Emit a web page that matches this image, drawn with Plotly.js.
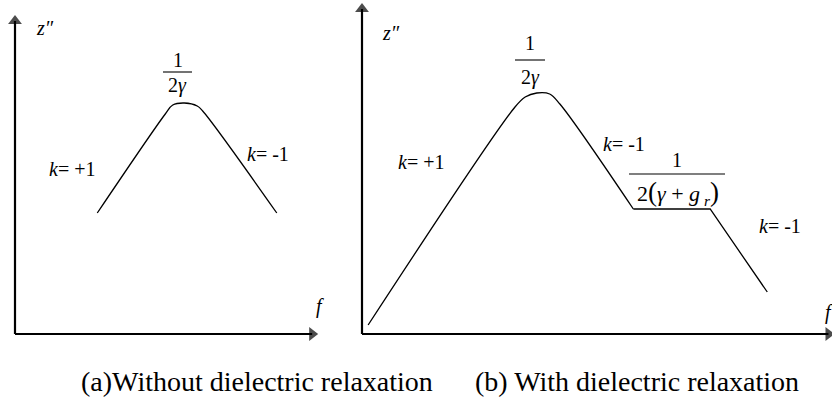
<!DOCTYPE html>
<html>
<head>
<meta charset="utf-8">
<script src="https://cdn.plot.ly/plotly-3.0.1.min.js"></script>
<style>html,body{margin:0;padding:0;background:#fff;}#chart{width:832px;height:401px;}</style>
</head>
<body>
<div id="chart"></div>
<script>
// Schematic data in log units (slope k = ±1)
// Panel (a): without dielectric relaxation
const fA = [1.21, 2.21, 2.32, 2.49, 2.68, 2.76, 3.85];
const zA = [1.21, 2.20, 2.29, 2.31, 2.28, 2.23, 1.21];
// Panel (b): with dielectric relaxation — peak part and plateau/tail part
const fBpeak = [0.09, 2.25, 2.40, 2.57, 2.76, 2.91, 3.99];
const zBpeak = [0.09, 2.27, 2.37, 2.41, 2.40, 2.30, 1.25];
const fBtail = [3.99, 5.12, 5.96];
const zBtail = [1.25, 1.25, 0.42];
// Axis extents (log units)
const axisA = {fmax: 4.37, zmax: 3.13};
const axisB = {fmax: 6.86, zmax: 3.25};

const W = 832, H = 401;
const serif = 'Liberation Serif';
const P = (px, py) => ({x: px / W, y: 1 - py / H});

function label(px, py, text, size) {
  const p = P(px, py);
  return {xref: 'paper', yref: 'paper', x: p.x, y: p.y, text: text, showarrow: false,
    xanchor: 'center', yanchor: 'middle', font: {family: serif, size: size || 20, color: '#000'}};
}
function bar(x0, x1, py) {
  return {type: 'line', xref: 'paper', yref: 'paper', x0: x0 / W, x1: x1 / W,
    y0: 1 - py / H, y1: 1 - py / H, line: {color: '#000', width: 1.1}};
}
function axisTrace(xa, xs, ys, sym) {
  return {x: xs, y: ys, xaxis: xa, yaxis: 'y', mode: 'lines+markers', cliponaxis: false, hoverinfo: 'skip',
    line: {color: '#000', width: 2.2},
    marker: {symbol: ['circle', sym], size: [0, 12], color: '#000', line: {width: 0}}};
}

const lineStyle = {color: '#000', width: 1.3, shape: 'spline'};
const traces = [
  axisTrace('x', [0, 0], [0, axisA.zmax], 'triangle-up'),
  axisTrace('x', [0, axisA.fmax], [0, 0], 'triangle-right'),
  axisTrace('x2', [0, 0], [0, axisB.zmax], 'triangle-up'),
  axisTrace('x2', [0, axisB.fmax], [0, 0], 'triangle-right'),
  {x: fA, y: zA, xaxis: 'x', yaxis: 'y', mode: 'lines', line: lineStyle, cliponaxis: false, hoverinfo: 'skip'},
  {x: fBpeak, y: zBpeak, xaxis: 'x2', yaxis: 'y', mode: 'lines', line: lineStyle, cliponaxis: false, hoverinfo: 'skip'},
  {x: fBtail, y: zBtail, xaxis: 'x2', yaxis: 'y', mode: 'lines', line: {color: '#000', width: 1.3}, cliponaxis: false, hoverinfo: 'skip'}
];

const big = s => '<span style="font-size:27px">' + s + '</span>';
const annotations = [
  // panel (a)
  label(45, 28, '<i>z″</i>', 20),
  label(178, 60, '1', 20),
  label(177, 86, '2<i>γ</i>', 20),
  label(72, 169, '<i>k</i>= +1', 20),
  label(268, 154, '<i>k</i>= -1', 20),
  label(320, 306, '<i>f</i>', 20),
  label(257, 381, '(a)Without dielectric relaxation', 28),
  // panel (b)
  label(391, 33, '<i>z″</i>', 20),
  label(530, 43, '1', 20),
  label(530, 77, '2<i>γ</i>', 20),
  label(421, 162, '<i>k</i>= +1', 20),
  label(624, 144, '<i>k</i>= -1', 20),
  label(677, 160, '1', 20),
  label(678, 193, '2' + big('(') + '<i>γ</i> + <i>g</i><sub> <i>r</i></sub>' + big(')'), 22),
  label(780, 226, '<i>k</i>= -1', 20),
  label(829, 312, '<i>f</i>', 20),
  label(637, 381, '(b) With dielectric relaxation', 28)
];

const shapes = [bar(163, 192, 72), bar(515, 545, 60), bar(629, 725, 174)];

const layout = {
  width: W, height: H, margin: {l: 0, r: 0, t: 0, b: 0, pad: 0},
  paper_bgcolor: '#fff', plot_bgcolor: '#fff', showlegend: false,
  font: {family: serif, color: '#000'},
  xaxis: {domain: [0, 1], range: [-15 / 68, 817 / 68], visible: false, fixedrange: true},
  xaxis2: {domain: [0, 1], range: [-362 / 68, 470 / 68], visible: false, overlaying: 'x', anchor: 'y', fixedrange: true},
  yaxis: {domain: [0, 1], range: [-67 / 100, 334 / 100], visible: false, fixedrange: true},
  annotations: annotations, shapes: shapes
};

Plotly.newPlot('chart', traces, layout, {staticPlot: true});
</script>
</body>
</html>
